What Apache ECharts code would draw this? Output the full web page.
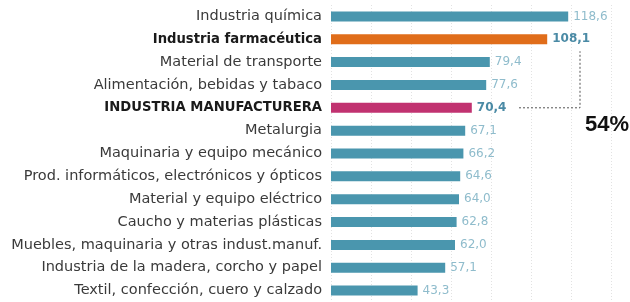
<!DOCTYPE html>
<html><head><meta charset="utf-8">
<script src="https://cdn.jsdelivr.net/npm/echarts@6/dist/echarts.min.js"></script>
<style>html,body{margin:0;padding:0;background:#fff}#c{width:630px;height:302px}</style>
</head><body><div id="c"></div>
<script>
const categories = [
  "Industria química",
  "Industria farmacéutica",
  "Material de transporte",
  "Alimentación, bebidas y tabaco",
  "INDUSTRIA MANUFACTURERA",
  "Metalurgia",
  "Maquinaria y equipo mecánico",
  "Prod. informáticos, electrónicos y ópticos",
  "Material y equipo eléctrico",
  "Caucho y materias plásticas",
  "Muebles, maquinaria y otras indust.manuf.",
  "Industria de la madera, corcho y papel",
  "Textil, confección, cuero y calzado"
];
const values = [118.6, 108.1, 79.4, 77.6, 70.4, 67.1, 66.2, 64.6, 64.0, 62.8, 62.0, 57.1, 43.3];
const highlightOrange = "Industria farmacéutica";
const highlightMagenta = "INDUSTRIA MANUFACTURERA";
const annotationText = "54%";

const FONT = 'DejaVu Sans, Verdana, sans-serif';
const TEAL = "#4a96ae", ORANGE = "#e06d1a", MAGENTA = "#c13270";
const chart = echarts.init(document.getElementById('c'));
const data = values.map((v, i) => {
  const c = categories[i];
  const col = c === highlightOrange ? ORANGE : c === highlightMagenta ? MAGENTA : TEAL;
  const bold = c === highlightOrange || c === highlightMagenta;
  return {
    value: v,
    itemStyle: { color: col },
    label: bold ? { fontWeight: 'bold', color: '#4a8aa5' } : {}
  };
});
chart.setOption({
  animation: false,
  grid: { left: 331, top: 5, width: 280, height: 298, containLabel: false },
  xAxis: {
    type: 'value', min: 0, max: 140, interval: 20,
    axisLabel: { show: false }, axisLine: { show: false }, axisTick: { show: false },
    splitLine: { show: true, lineStyle: { color: '#e2e2e2', type: [1, 2], width: 1 } }
  },
  yAxis: {
    type: 'category', data: categories, inverse: true,
    axisLine: { show: false }, axisTick: { show: false },
    axisLabel: {
      margin: 9, fontFamily: FONT, fontSize: 14.5, color: '#3a3a3a',
      formatter: (v) => (v === highlightOrange || v === highlightMagenta) ? '{b|' + v + '}' : v,
      rich: { b: { fontWeight: 'bold', color: '#1a1a1a', fontSize: 13.2, fontFamily: FONT } }
    }
  },
  series: [{
    type: 'bar', data: data, barWidth: 10,
    label: {
      show: true, position: 'right', distance: 5,
      fontFamily: FONT, fontSize: 12, color: '#8fbccc',
      formatter: (p) => p.value.toFixed(1).replace('.', ',')
    }
  }]
});
// annotation connector in data units
const idxM = categories.indexOf(highlightMagenta), idxO = categories.indexOf(highlightOrange);
const p1 = chart.convertToPixel({ gridIndex: 0 }, [94, idxM]);
const p2 = chart.convertToPixel({ gridIndex: 0 }, [124.5, idxM]);
const pO = chart.convertToPixel({ gridIndex: 0 }, [124.5, idxO]);
const topY = pO[1] + 12;
chart.setOption({
  graphic: [
    { type: 'polyline', shape: { points: [[p1[0], p1[1]], [p2[0], p2[1]], [p2[0], topY]] },
      style: { stroke: '#555', lineWidth: 1, lineDash: [2, 2], fill: null } },
    { type: 'text', x: p2[0] + 5, y: p1[1] + 17,
      style: { text: annotationText, fontFamily: 'Liberation Sans, Arial, sans-serif', fontSize: 22, fontWeight: 'bold', fill: '#111', textVerticalAlign: 'middle' } }
  ]
});
</script></body></html>
